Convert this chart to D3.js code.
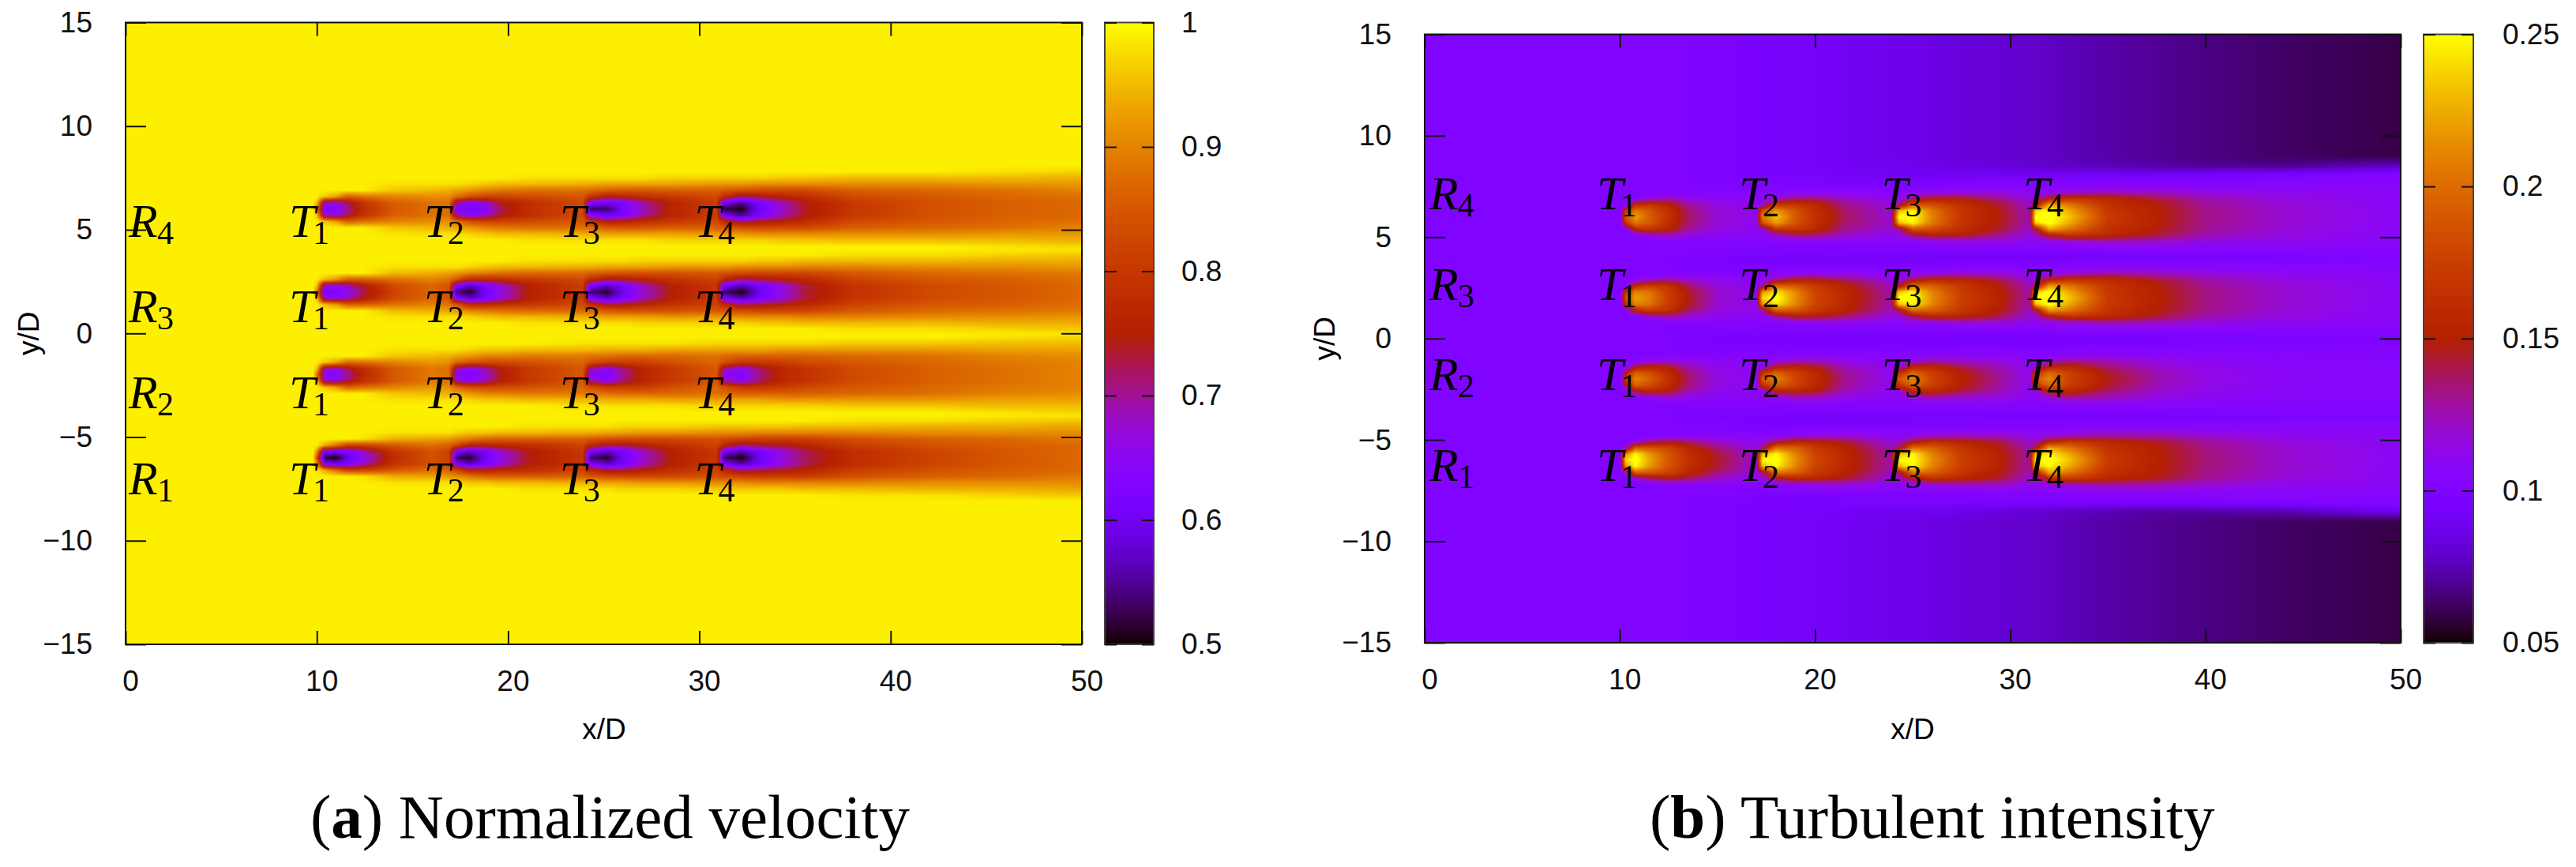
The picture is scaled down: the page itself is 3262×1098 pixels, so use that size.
<!DOCTYPE html>
<html>
<head>
<meta charset="utf-8">
<script src="https://cdn.jsdelivr.net/npm/d3@7"></script>
<style>
  body { margin: 0; background: #fff; }
  svg { display: block; }
</style>
</head>
<body>
<div id="one"></div>
<script>
// shared axis values
const xTicks = [0, 10, 20, 30, 40, 50]
const yTicks = [-15, -10, -5, 0, 5, 10, 15]
const velocityTicks = [0.5, 0.6, 0.7, 0.8, 0.9, 1]
const turbulenceTicks = [0.05, 0.1, 0.15, 0.2, 0.25]
const wakeCenters = [-6, -2, 2, 6]
const rowNames = ['1', '2', '3', '4']

// label anchors, in data units
const velocityTurbineX = [8.55, 15.6, 22.7, 29.75]
const velocityRowX = 0.17
const velocityBaseY = [-7.75, -3.6, 0.55, 4.66]
const turbulenceTurbineX = [8.82, 16.1, 23.4, 30.66]
const turbulenceRowX = 0.24
const turbulenceBaseY = [-7.0, -2.54, 1.9, 6.37]

// distance from the wake centre, stations along x
const velocityOffsets = [0, 0.3, 0.6, 0.9, 1.2, 1.5, 1.8, 2.1]
const velocityX = [0, 9.8, 10, 10.4, 11, 11.6, 12.4, 14, 16, 16.9, 17.3, 18, 18.8, 19.6, 21, 23.9, 24.3, 25.2, 26, 27, 28.5, 30.9, 31.3, 32.2, 33.2, 34.4, 35.5, 38, 42, 46, 50]

// velocity x 100, one line per x station
const velocityR1 = [
  [99,99,99,99,99,99,99,99],[99,99,99,99,99,99,99,99],[84,92,99,99,99,99,99,99],[52,62,94,99,99,99,99,99],
  [50,60,88,99,99,99,99,99],[58,62,82,99,99,99,99,99],[65,68,82,98,99,99,99,99],[78,79,85,94,98,99,99,99],
  [84,84,88,93,98,99,99,99],[82,82,86,92,98,99,99,99],[53,62,83,91,97,99,99,99],[51,57,76,89,96,99,99,99],
  [60,61,76,87,96,99,99,99],[66,67,77,86,95,99,99,99],[74,74,78,86,95,98,99,99],[80,80,82,86,94,98,99,99],
  [53,62,77,85,94,98,99,99],[51,57,73,84,93,98,99,99],[60,61,73,83,93,97,99,99],[67,68,75,83,92,97,99,99],
  [75,75,78,83,92,97,99,99],[80,80,82,84,91,96,99,99],[53,61,77,83,91,96,99,99],[50,56,71,82,91,96,99,99],
  [60,61,73,81,90,96,99,99],[67,67,74,81,90,96,99,99],[72,72,76,81,90,95,99,99],[78,78,81,84,90,95,98,99],
  [82,82,84,86,91,94,98,99],[85,85,86,87,91,94,97,99],[87,87,87,89,91,93,96,99]
]
const velocityR2 = [
  [99,99,99,99,99,99,99,99],[99,99,99,99,99,99,99,99],[88,96,99,99,99,99,99,99],[64,69,96,99,99,99,99,99],
  [63,67,93,99,99,99,99,99],[69,73,87,99,99,99,99,99],[77,78,88,99,99,99,99,99],[85,85,90,96,98,99,99,99],
  [89,89,92,95,98,99,99,99],[88,88,91,94,98,99,99,99],[64,70,87,93,98,99,99,99],[62,65,84,92,97,99,99,99],
  [67,69,83,90,96,99,99,99],[74,75,83,90,96,99,99,99],[80,80,84,89,95,99,99,99],[85,85,87,89,95,98,99,99],
  [64,70,84,88,95,98,99,99],[63,65,81,88,94,98,99,99],[70,71,81,87,94,98,99,99],[76,76,81,87,94,98,99,99],
  [80,80,84,87,93,98,99,99],[85,85,87,88,93,97,99,99],[64,70,84,87,93,97,99,99],[63,65,80,86,93,97,99,99],
  [71,72,80,86,93,97,99,99],[77,77,81,86,92,97,99,99],[79,79,83,86,92,97,99,99],[83,83,85,87,92,96,99,99],
  [86,86,87,88,92,96,99,99],[88,88,89,90,93,95,98,99],[90,90,90,91,93,95,97,99]
]
const velocityR3 = [
  [99,99,99,99,99,99,99,99],[99,99,99,99,99,99,99,99],[88,96,99,99,99,99,99,99],[62,67,95,99,99,99,99,99],
  [62,65,92,99,99,99,99,99],[65,68,86,99,99,99,99,99],[72,74,86,99,99,99,99,99],[82,83,88,95,98,99,99,99],
  [87,87,90,94,98,99,99,99],[84,84,88,93,98,99,99,99],[53,63,84,92,98,99,99,99],[51,57,77,90,97,99,99,99],
  [60,61,77,89,96,99,99,99],[66,67,78,88,95,99,99,99],[75,75,80,87,95,98,99,99],[81,81,83,87,94,98,99,99],
  [53,62,78,86,94,98,99,99],[51,57,73,85,93,98,99,99],[60,61,74,84,93,98,99,99],[67,68,76,84,93,97,99,99],
  [75,75,79,84,92,97,99,99],[80,80,82,85,92,97,99,99],[53,61,77,84,92,97,99,99],[50,56,71,83,91,97,99,99],
  [60,61,73,82,91,96,99,99],[67,67,75,82,91,96,99,99],[73,73,77,82,90,95,99,99],[79,79,82,85,90,95,98,99],
  [83,83,85,87,91,95,98,99],[85,85,86,88,91,94,97,99],[87,87,88,89,92,94,96,99]
]
const velocityR4 = [
  [99,99,99,99,99,99,99,99],[99,99,99,99,99,99,99,99],[88,96,99,99,99,99,99,99],[63,68,96,99,99,99,99,99],
  [63,66,93,99,99,99,99,99],[70,72,86,99,99,99,99,99],[78,79,88,99,99,99,99,99],[85,86,90,96,98,99,99,99],
  [88,88,91,95,98,99,99,99],[88,88,91,94,98,99,99,99],[62,70,88,93,98,99,99,99],[61,64,84,92,97,99,99,99],
  [64,67,82,90,96,99,99,99],[72,74,82,89,95,99,99,99],[78,78,83,88,95,98,99,99],[83,83,85,88,94,98,99,99],
  [53,63,80,87,94,98,99,99],[53,60,75,86,93,98,99,99],[61,62,76,85,93,98,99,99],[68,69,78,85,93,98,99,99],
  [76,76,80,86,93,97,99,99],[81,81,83,86,92,97,99,99],[52,60,78,85,92,97,99,99],[50,55,71,84,92,97,99,99],
  [61,62,74,83,91,97,99,99],[68,69,76,83,91,96,99,99],[74,74,78,83,91,96,99,99],[80,80,83,86,91,95,99,99],
  [84,84,85,87,91,95,99,99],[86,86,87,88,92,95,98,99],[87,87,88,90,92,94,97,99]
]

const turbulenceOffsets = [0, 0.3, 0.6, 0.9, 1.2, 1.5, 1.8, 2.1, 2.5, 3]
const turbulenceX = [0, 6, 10, 10.3, 10.8, 11.5, 12.5, 13.5, 15, 17, 17.3, 18, 19, 20, 21.5, 23.9, 24.3, 25, 26, 27.5, 29.5, 31, 31.3, 32, 33, 35, 37.5, 40, 44, 50]

// intensity x 1000, one line per x station
const turbulenceR1 = [
  [100,100,100,100,100,100,100,100,100,100],[100,100,100,100,100,100,100,100,100,100],[100,100,100,100,100,100,100,100,100,100],
  [240,215,120,100,100,100,100,100,100,100],[255,250,195,115,100,100,100,100,100,100],[225,218,190,135,102,100,100,100,100,100],
  [190,188,178,145,105,100,100,100,100,100],[165,163,158,138,107,100,100,100,100,100],[145,143,135,120,108,101,99,98,98,98],
  [118,118,116,112,106,100,97,96,96,96],[250,230,135,115,107,100,97,96,96,96],[255,250,205,140,108,101,97,96,95,95],
  [215,210,195,158,112,102,97,96,94,94],[180,178,172,155,115,103,97,96,94,93],[158,157,154,145,118,105,98,96,92,91],
  [128,127,124,118,110,104,98,96,90,88],[250,230,140,120,110,104,98,96,90,88],[255,250,205,145,113,104,98,96,90,87],
  [215,210,195,165,118,105,99,96,89,85],[175,173,168,155,124,106,99,96,87,83],[152,151,148,142,122,107,100,96,84,81],
  [128,128,126,120,113,106,100,96,82,79],[250,232,145,122,113,106,100,96,82,79],[255,250,225,158,115,107,100,96,80,78],
  [235,225,205,172,122,108,101,96,78,76],[172,170,165,158,128,112,103,95,75,73],[152,151,150,146,126,113,103,96,72,70],
  [135,134,133,130,120,110,104,98,73,67],[120,120,119,117,112,108,104,100,75,63],[109,109,109,109,108,107,105,102,90,59]
]
const turbulenceR2 = [
  [100,100,100,100,100,100,100,100],[100,100,100,100,100,100,100,100],[100,100,100,100,100,100,100,100],
  [170,145,102,100,100,100,100,100],[212,195,145,104,100,100,100,100],[195,185,155,112,101,100,100,100],
  [165,160,148,118,102,100,100,100],[137,135,126,112,103,100,99,99],[115,115,112,108,103,99,97,96],
  [110,110,109,107,103,99,96,95],[190,165,110,107,103,99,96,95],[212,195,150,112,104,99,96,95],
  [180,177,155,122,105,100,96,95],[160,158,148,122,106,100,96,95],[132,130,124,113,106,100,96,94],
  [112,112,111,108,104,100,96,94],[190,165,114,108,104,100,96,94],[212,198,155,115,105,100,96,94],
  [178,175,158,126,106,100,96,94],[152,151,140,120,108,101,96,94],[130,128,124,115,107,101,96,94],
  [112,112,111,108,105,100,96,94],[190,165,114,108,105,100,96,94],[212,198,155,118,105,100,96,94],
  [178,175,158,130,107,101,96,94],[148,145,135,125,109,102,97,94],[126,125,121,115,107,102,97,94],
  [115,114,112,110,106,102,98,95],[108,108,107,106,105,102,99,96],[105,105,105,105,104,102,100,97]
]
const turbulenceR3 = [
  [100,100,100,100,100,100,100,100],[100,100,100,100,100,100,100,100],[100,100,100,100,100,100,100,100],
  [185,165,104,100,100,100,100,100],[222,210,160,106,100,100,100,100],[210,203,175,120,101,100,100,100],
  [175,173,165,130,103,100,100,100],[148,146,138,120,104,100,99,99],[120,120,117,111,104,99,97,96],
  [112,112,112,109,104,99,96,95],[240,215,125,110,105,99,96,95],[255,245,195,130,106,100,96,95],
  [215,212,190,150,109,100,96,95],[180,178,172,148,112,101,96,95],[158,157,153,138,113,102,96,94],
  [128,127,124,116,107,101,96,94],[255,235,140,118,107,101,96,94],[255,250,200,140,110,102,96,94],
  [215,210,195,158,114,103,96,94],[175,173,170,155,120,104,97,94],[152,151,148,140,118,105,97,94],
  [128,127,124,118,111,104,97,94],[255,235,140,120,111,104,97,94],[255,255,220,150,113,105,97,94],
  [235,225,205,168,118,106,98,94],[172,170,168,160,128,108,99,95],[152,151,150,144,124,109,100,95],
  [133,133,131,127,116,107,100,95],[120,119,118,116,111,106,101,96],[108,108,108,108,106,105,101,97]
]
const turbulenceR4 = [
  [100,100,100,100,100,100,100,100,100,100],[100,100,100,100,100,100,100,100,100,100],[100,100,100,100,100,100,100,100,100,100],
  [190,170,105,100,100,100,100,100,100,100],[222,205,160,105,100,100,100,100,100,100],[195,190,168,118,102,100,100,100,100,100],
  [165,163,155,125,104,100,100,100,100,100],[138,136,130,114,104,100,100,100,100,100],[118,118,115,110,104,100,99,98,98,98],
  [112,112,111,108,104,99,97,96,96,96],[205,185,115,108,104,99,97,96,96,96],[235,220,170,118,105,99,97,96,95,95],
  [190,187,170,135,107,100,97,95,94,94],[165,164,158,135,108,100,97,95,93,93],[138,137,132,122,108,100,96,93,91,91],
  [120,120,118,112,106,100,96,91,89,88],[255,230,130,113,107,100,96,91,88,88],[255,250,190,135,108,101,96,91,88,87],
  [210,205,185,150,112,102,96,91,87,85],[168,167,163,148,116,104,97,91,85,83],[148,147,143,132,115,105,98,90,83,81],
  [125,125,122,116,110,104,98,90,81,79],[255,240,145,120,110,104,98,90,81,79],[255,255,225,150,112,105,98,90,79,78],
  [235,225,205,168,118,106,98,90,78,76],[172,170,165,157,126,108,99,90,76,73],[152,151,149,142,122,108,100,90,73,70],
  [132,132,130,126,115,107,101,92,70,67],[120,119,118,116,112,107,102,95,69,63],[108,108,108,108,107,106,104,102,78,59]
]

// gnuplot's default pm3d palette (rgbformulae 7,5,15)
const gnuplotPalette = t => {
  const r = Math.sqrt(t)
  const g = t * t * t
  const b = Math.max(0, Math.sin(2 * Math.PI * t))
  return `rgb(${Math.round(r * 255)},${Math.round(g * 255)},${Math.round(b * 255)})`
}

const width = 3262
const height = 1098
const sans = '"Liberation Sans", sans-serif'
const serif = '"Liberation Serif", serif'

const svg = d3.create('svg')
  .attr('width', width)
  .attr('height', height)
  .attr('viewBox', [0, 0, width, height])

// value at a data position, smoothed across the read stations like pm3d interpolate
function fieldValue(panel, x, y) {
  const xs = panel.xStations
  const offs = panel.offsets
  let k = 0
  wakeCenters.forEach((c, i) => { if (Math.abs(y - c) < Math.abs(y - wakeCenters[k])) k = i })
  const off = Math.abs(y - wakeCenters[k])
  const table = panel.tables[k]
  const i = Math.min(xs.length - 2, Math.max(0, d3.bisectRight(xs, x) - 1))
  const fx = Math.min(1, Math.max(0, (x - xs[i]) / (xs[i + 1] - xs[i])))
  const last = table[0].length - 1
  const j = Math.min(last - 1, Math.max(0, d3.bisectRight(offs, off) - 1))
  const fy = Math.min(1, Math.max(0, (off - offs[j]) / (offs[j + 1] - offs[j])))
  const a = table[i][j] * (1 - fy) + table[i][j + 1] * fy
  const b = table[i + 1][j] * (1 - fy) + table[i + 1][j + 1] * fy
  return (a * (1 - fx) + b * fx) / panel.unit
}

function drawPanel(panel) {
  const {left, right, top, bottom, barLeft, barRight} = panel
  const x = d3.scaleLinear().domain([0, 50]).range([left, right])
  const y = d3.scaleLinear().domain([-15, 15]).range([bottom, top])
  const c = d3.scaleLinear().domain(panel.domain).range([bottom, top])
  const color = d3.scaleSequential(gnuplotPalette).domain(panel.domain).clamp(true)
  const g = svg.append('g')

  // heat field
  const w = Math.round(right - left)
  const h = Math.round(bottom - top)
  const canvas = document.createElement('canvas')
  canvas.width = w
  canvas.height = h
  const ctx = canvas.getContext('2d')
  for (let py = 0; py < h; py++) {
    for (let px = 0; px < w; px++) {
      ctx.fillStyle = color(fieldValue(panel, x.invert(left + px + 0.5), y.invert(top + py + 0.5)))
      ctx.fillRect(px, py, 1, 1)
    }
  }
  g.append('image')
    .attr('x', left).attr('y', top).attr('width', w).attr('height', h)
    .attr('href', canvas.toDataURL())

  // colour bar
  const levels = d3.range(0, 256).map(i => panel.domain[0] + (panel.domain[1] - panel.domain[0]) * i / 255)
  const step = (bottom - top) / 255
  g.append('g').selectAll('rect').data(levels).join('rect')
    .attr('x', barLeft)
    .attr('y', d => c(d) - step / 2 - 0.5)
    .attr('width', barRight - barLeft)
    .attr('height', step + 1)
    .attr('fill', d => color(d))
    .attr('clip-path', `url(#${panel.id}-bar)`)
  g.append('clipPath').attr('id', `${panel.id}-bar`).append('rect')
    .attr('x', barLeft).attr('y', top).attr('width', barRight - barLeft).attr('height', bottom - top)
  g.append('rect')
    .attr('x', barLeft).attr('y', top).attr('width', barRight - barLeft).attr('height', bottom - top)
    .attr('fill', 'none').attr('stroke', '#444').attr('stroke-width', 2)

  // axes, gnuplot style with inward mirrored ticks
  const style = s => s
    .call(a => a.select('.domain').remove())
    .call(a => a.selectAll('line').attr('stroke', '#111').attr('stroke-width', 2))
    .call(a => a.selectAll('text').attr('font-family', sans).attr('font-size', 37).attr('fill', '#111'))
  const num = d => String(d).replace('-', '\u2212')

  g.append('g').attr('transform', `translate(0,${bottom})`)
    .call(d3.axisBottom(x).tickValues(xTicks).tickFormat(num).tickSize(-17).tickPadding(33))
    .call(style)
    .call(a => a.selectAll('text').attr('dx', 6))
  g.append('g').attr('transform', `translate(0,${top})`)
    .call(d3.axisTop(x).tickValues(xTicks).tickFormat('').tickSize(-17))
    .call(style)
  g.append('g').attr('transform', `translate(${left},0)`)
    .call(d3.axisLeft(y).tickValues(yTicks).tickFormat(num).tickSize(-26).tickPadding(panel.yPad))
    .call(style)
  g.append('g').attr('transform', `translate(${right},0)`)
    .call(d3.axisRight(y).tickValues(yTicks).tickFormat('').tickSize(-26))
    .call(style)
  g.append('rect')
    .attr('x', left).attr('y', top).attr('width', right - left).attr('height', bottom - top)
    .attr('fill', 'none').attr('stroke', '#111').attr('stroke-width', 2)

  g.append('g').attr('transform', `translate(${barRight},0)`)
    .call(d3.axisRight(c).tickValues(panel.ticks).tickFormat(String).tickSize(-15).tickPadding(panel.barPad))
    .call(style)
  g.append('g').attr('transform', `translate(${barLeft},0)`)
    .call(d3.axisLeft(c).tickValues(panel.ticks).tickFormat('').tickSize(-15))
    .call(style)

  // axis titles
  g.append('text')
    .attr('x', panel.xTitleX).attr('y', 936)
    .attr('text-anchor', 'middle').attr('font-family', sans).attr('font-size', 37)
    .text('x/D')
  g.append('text')
    .attr('transform', `translate(${panel.yTitleX},${(top + bottom) / 2}) rotate(-90)`)
    .attr('text-anchor', 'middle').attr('font-family', sans).attr('font-size', 37)
    .text('y/D')

  // R and T annotations
  const mark = (name, sub, px, py, subDx) => {
    g.append('text').attr('x', px).attr('y', py)
      .attr('font-family', serif).attr('font-style', 'italic').attr('font-size', 60)
      .text(name)
    g.append('text').attr('x', px + subDx).attr('y', py + 9)
      .attr('font-family', serif).attr('font-size', 42)
      .text(sub)
  }
  panel.baseY.forEach((by, r) => {
    mark('R', rowNames[r], x(panel.rowX), y(by), 36)
    panel.turbineX.forEach((tx, t) => mark('T', rowNames[t], x(tx), y(by), 30))
  })

  // caption
  const cap = g.append('text')
    .attr('x', panel.capX).attr('y', 1061)
    .attr('font-family', serif).attr('font-size', 79)
  cap.append('tspan').text('(')
  cap.append('tspan').attr('font-weight', 'bold').text(panel.letter)
  cap.append('tspan').text(') ' + panel.caption)
}

drawPanel({
  id: 'velocity', letter: 'a', caption: 'Normalized velocity', unit: 100,
  left: 159, right: 1370, top: 28.5, bottom: 816, barLeft: 1399, barRight: 1461,
  domain: [0.5, 1], ticks: velocityTicks, yPad: 42, barPad: 35,
  xStations: velocityX, offsets: velocityOffsets,
  tables: [velocityR1, velocityR2, velocityR3, velocityR4],
  turbineX: velocityTurbineX, rowX: velocityRowX, baseY: velocityBaseY,
  xTitleX: 765, yTitleX: 49, capX: 393
})
drawPanel({
  id: 'turbulence', letter: 'b', caption: 'Turbulent intensity', unit: 1000,
  left: 1804, right: 3040, top: 43.5, bottom: 814, barLeft: 3069, barRight: 3132,
  domain: [0.05, 0.25], ticks: turbulenceTicks, yPad: 42, barPad: 37,
  xStations: turbulenceX, offsets: turbulenceOffsets,
  tables: [turbulenceR1, turbulenceR2, turbulenceR3, turbulenceR4],
  turbineX: turbulenceTurbineX, rowX: turbulenceRowX, baseY: turbulenceBaseY,
  xTitleX: 2422, yTitleX: 1690, capX: 2089
})

document.getElementById('one').appendChild(svg.node())
</script>
</body>
</html>
